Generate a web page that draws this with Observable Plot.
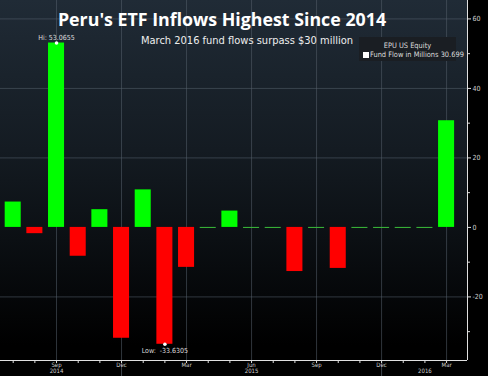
<!DOCTYPE html>
<html><head><meta charset="utf-8">
<script src="https://cdn.jsdelivr.net/npm/d3@7"></script>
<script src="https://cdn.jsdelivr.net/npm/@observablehq/plot@0.6"></script>
<style>
html,body{margin:0;padding:0;background:#000;}
#chart{position:relative;width:488px;height:376px;overflow:hidden;
  background:
   linear-gradient(to right, rgba(0,0,0,0) 467px, #000 467px),
   linear-gradient(to bottom, #202b36 0px, #141b22 150px, #0b0f13 240px, #000 345px);}
#chart svg{position:absolute;left:0;top:0;}
.title{position:absolute;left:222px;top:8px;transform:translateX(-50%);white-space:nowrap;
  font-family:"Open Sans",Lato,sans-serif;font-weight:700;font-size:17.8px;color:#fff;line-height:22px;}
.subtitle{position:absolute;left:247px;top:34px;transform:translateX(-50%);white-space:nowrap;
  font-family:"Liberation Sans Narrow","DejaVu Sans Condensed",sans-serif;font-size:11px;color:#eee;line-height:14px;}
.legend{position:absolute;left:359px;top:37px;width:97px;height:24px;background:#1a1e23;
  font-family:"Liberation Sans Narrow","DejaVu Sans Condensed",sans-serif;font-size:7.4px;color:#ddd;line-height:8px;}
.legend .l1{text-align:center;margin-top:5px;}
.legend .l2{margin-top:1px;margin-left:4px;white-space:nowrap;}
.legend .sw{display:inline-block;width:6px;height:6px;background:#fff;vertical-align:-1px;margin-right:1px;}
</style></head><body><div id="chart"></div>
<script>
const months = ["Jul 2014","Aug 2014","Sep 2014","Oct 2014","Nov 2014","Dec 2014",
  "Jan 2015","Feb 2015","Mar 2015","Apr 2015","May 2015","Jun 2015","Jul 2015","Aug 2015",
  "Sep 2015","Oct 2015","Nov 2015","Dec 2015","Jan 2016","Feb 2016","Mar 2016"];
const flows = [7.3, -1.8, 53.0655, -8.3, 5.1, -31.9, 10.8, -33.6305, -11.5, 0, 4.7, 0, 0,
  -12.7, 0, -11.8, 0, 0, 0, 0, 30.699];
const tickMonths = ["Sep 2014","Dec 2014","Mar 2015","Jun 2015","Sep 2015","Dec 2015","Mar 2016"];
const tickNames = ["Sep","Dec","Mar","Jun","Sep","Dec","Mar"];
const yearMonths = ["Sep 2014","Jun 2015","Feb 2016"];
const yearNames = ["2014","2015","2016"];
const yTicks = [60,40,20,0,-20];
const yMinor = [50,30,10,-10,-30];
const titleText = "Peru's ETF Inflows Highest Since 2014";
const subtitleText = "March 2016 fund flows surpass $30 million";
const legendTitle = "EPU US Equity";
const seriesName = "Fund Flow in Millions";

const data = months.map((m,i)=>({i, month:m, value:flows[i]}));
const idx = m => months.indexOf(m);
const xDomain = [-0.586, 20.965];
const yDomain = [-38.3, 65.3];
const half = 0.37;
const hi = data.reduce((a,b)=>b.value>a.value?b:a);
const lo = data.reduce((a,b)=>b.value<a.value?b:a);
const last = data[data.length-1];
const tickMap = new Map(tickMonths.map((m,k)=>[idx(m), tickNames[k]]));
const decIdx = tickMonths.filter(m=>m.startsWith("Dec")).map(idx);
const font = '"Liberation Sans Narrow","DejaVu Sans Condensed",sans-serif';

const plot = Plot.plot({
  width: 488, height: 376,
  marginLeft: 0, marginRight: 21, marginTop: 0, marginBottom: 16,
  style: {background:"transparent", color:"#cfcfcf", fontFamily: font, fontSize:"7px"},
  x: {type:"linear", domain:xDomain, axis:null, label:null},
  y: {domain:yDomain, axis:null, label:null},
  marks: [
    Plot.ruleY(yTicks.filter(d=>d!==0), {stroke:"#56616c", strokeOpacity:0.55}),
    Plot.ruleX(tickMonths.map(idx), {stroke:"#56616c", strokeOpacity:0.55}),
    Plot.ruleX(decIdx, {y1: yDomain[0], y2: yDomain[0]-4.6, stroke:"#56616c", strokeOpacity:0.7}),
    Plot.ruleY(data.filter(d=>d.value===0), {x1:d=>d.i-half, x2:d=>d.i+half, y:0, stroke:"#3bbd3b", strokeWidth:1}),
    Plot.rect(data.filter(d=>d.value!==0), {x1:d=>d.i-half, x2:d=>d.i+half, y1:0, y2:"value",
      fill:d=>d.value>0?"#00ff00":"#ff0000"}),
    Plot.dot([hi, lo], {x:"i", y:"value", r:1.8, fill:"#fff", stroke:null}),
    Plot.text([hi], {x:"i", y:"value", text:d=>"Hi: "+d.value, dy:-5, fill:"#ddd", fontSize:7}),
    Plot.text([lo], {x:"i", y:"value", text:d=>"Low:  "+d.value, dy:6, fill:"#ddd", fontSize:7}),
    Plot.ruleX([xDomain[1]], {stroke:"#e0e0e0"}),
    Plot.ruleY([yDomain[0]], {stroke:"#e0e0e0"}),
    Plot.axisY(yTicks, {anchor:"right", tickSize:3, tickPadding:2, tickFormat:d=>String(d), stroke:"#e0e0e0", fill:"#cfcfcf", fontSize:7}),
    Plot.axisY(yMinor, {anchor:"right", tickSize:2, tickFormat:()=>"", stroke:"#e0e0e0"}),
    Plot.axisX(d3.range(months.length), {anchor:"bottom", tickSize:3, tickPadding:-1, tickFormat:i=>tickMap.get(i) ?? "", stroke:"#e0e0e0", fill:"#cfcfcf", fontSize:6}),
    Plot.text(yearNames, {x:(d,k)=>idx(yearMonths[k]), frameAnchor:"bottom", dy:12.6, fill:"#cfcfcf", fontSize:6})
  ]
});
const chart = document.getElementById("chart");
chart.appendChild(plot);
const t = document.createElement("div"); t.className="title"; t.textContent=titleText; chart.appendChild(t);
const s = document.createElement("div"); s.className="subtitle"; s.textContent=subtitleText; chart.appendChild(s);
const lg = document.createElement("div"); lg.className="legend";
lg.innerHTML = `<div class="l1"></div><div class="l2"><span class="sw"></span><span class="lt"></span></div>`;
lg.querySelector(".l1").textContent = legendTitle;
lg.querySelector(".lt").textContent = seriesName + "  " + last.value;
chart.appendChild(lg);
</script></body></html>
